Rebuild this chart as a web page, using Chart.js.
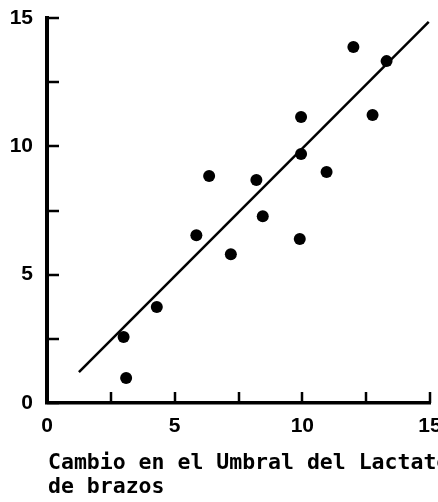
<!DOCTYPE html>
<html>
<head>
<meta charset="utf-8">
<script src="https://cdn.jsdelivr.net/npm/chart.js@4"></script>
<style>
  body { margin: 0; background: #fff; }
  canvas { display: block; }
</style>
</head>
<body>
<canvas id="scatterChart" width="438" height="502"></canvas>
<script>
// puntos medidos
const cambioX = [3.0, 3.1, 4.3, 5.85, 6.35, 7.2, 8.2, 8.45, 9.9, 9.95, 9.95, 10.95, 12.0, 12.75, 13.3];
const cambioY = [2.57, 0.97, 3.74, 6.54, 8.84, 5.8, 8.69, 7.28, 6.39, 11.14, 9.7, 9.0, 13.87, 11.22, 13.32];
// recta de regresion (extremos)
const rectaX = [1.25, 14.95];
const rectaY = [1.2, 14.85];
const tickLabels = [0, 5, 10, 15];
const tituloX = ['Cambio en el Umbral del Lactato', 'de brazos'];

const puntos = cambioX.map((x, i) => ({x: x, y: cambioY[i]}));
const recta = rectaX.map((x, i) => ({x: x, y: rectaY[i]}));

const tickCallback = (v) => tickLabels.includes(v) ? String(v) : '';
const tickFont = {family: 'Liberation Sans', size: 21, weight: 'bold'};

// marcas de escala hacia dentro, como en el original
const inwardTicks = {
    id: 'inwardTicks',
    afterDatasetsDraw(chart) {
        const {ctx, chartArea, scales} = chart;
        ctx.save();
        ctx.strokeStyle = '#000';
        ctx.lineWidth = 2.5;
        ctx.beginPath();
        scales.x.ticks.forEach(t => {
            const px = Math.round(scales.x.getPixelForValue(t.value));
            ctx.moveTo(px, chartArea.bottom);
            ctx.lineTo(px, chartArea.bottom - 11);
        });
        scales.y.ticks.forEach(t => {
            const py = Math.round(scales.y.getPixelForValue(t.value));
            ctx.moveTo(chartArea.left, py);
            ctx.lineTo(chartArea.left + 12, py);
        });
        ctx.stroke();
        ctx.restore();
    }
};

// titulo del eje x: sin recortar al ancho del grafico (en el original se sale)
const tituloEjeX = {
    id: 'tituloEjeX',
    afterDraw(chart) {
        const {ctx, chartArea} = chart;
        ctx.save();
        ctx.fillStyle = '#000';
        ctx.font = 'bold 21.5px "DejaVu Sans Mono"';
        ctx.textAlign = 'left';
        ctx.textBaseline = 'alphabetic';
        tituloX.forEach((linea, i) => {
            ctx.fillText(linea, chartArea.left + 1, chartArea.bottom + 66 + i * 24);
        });
        ctx.restore();
    }
};

const CHART = document.getElementById("scatterChart");
let scatterChart = new Chart(CHART, {
    type: 'scatter',
    data: {
        datasets: [
        {
            data: puntos,
            pointRadius: 6,
            pointBackgroundColor: '#000',
            pointBorderWidth: 0
        },
        {
            data: recta,
            showLine: true,
            pointRadius: 0,
            borderColor: '#000',
            borderWidth: 2.5
        }
        ]
    },
    options: {
        responsive: false,
        animation: false,
        layout: {padding: {top: 18, right: 8, left: 0, bottom: 0}},
        plugins: {legend: {display: false}, tooltip: {enabled: false}},
        scales: {
            x: {
                min: 0, max: 15,
                border: {color: '#000', width: 3.5},
                grid: {display: true, drawOnChartArea: false, drawTicks: false},
                ticks: {stepSize: 2.5, autoSkip: false, maxRotation: 0, color: '#000', font: tickFont, padding: 11, callback: tickCallback},
                afterFit: (s) => { s.height = 99; s.paddingLeft = 0; s.paddingRight = 0; }
            },
            y: {
                min: 0, max: 15,
                border: {color: '#000', width: 4},
                grid: {display: true, drawOnChartArea: false, drawTicks: false},
                ticks: {stepSize: 2.5, autoSkip: false, color: '#000', font: tickFont, padding: 14, callback: tickCallback},
                afterFit: (s) => { s.width = 47; s.paddingTop = 0; s.paddingBottom = 0; }
            }
        }
    },
    plugins: [inwardTicks, tituloEjeX]
});
</script>
</body>
</html>
